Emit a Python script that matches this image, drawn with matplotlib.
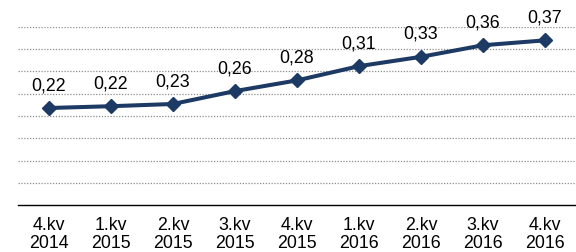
import matplotlib
matplotlib.use("Agg")
import matplotlib.pyplot as plt

categories = ["4.kv\n2014", "1.kv\n2015", "2.kv\n2015", "3.kv\n2015", "4.kv\n2015",
              "1.kv\n2016", "2.kv\n2016", "3.kv\n2016", "4.kv\n2016"]
values = [0.218, 0.222, 0.227, 0.256, 0.280, 0.312, 0.333, 0.359, 0.370]
labels = ["0,22", "0,22", "0,23", "0,26", "0,28", "0,31", "0,33", "0,36", "0,37"]

plt.rcParams['font.family'] = ['Liberation Sans', 'DejaVu Sans']

fig = plt.figure(figsize=(5.76, 2.52), dpi=100)
ax = fig.add_axes([18/576, 47/252, 1 - 18/576, 178/252])

x = list(range(len(values)))
color = "#1D3A64"
ax.plot(x, values, color=color, lw=2.9, marker="D", markersize=7,
        markerfacecolor=color, markeredgecolor=color, clip_on=False, zorder=3)

for xi, v, lab in zip(x, values, labels):
    ax.annotate(lab, (xi, v), xytext=(0, 10), textcoords="offset points",
                ha="center", va="bottom", fontsize=12.8, color="#000000",
                annotation_clip=False)

ax.set_xlim(-0.5, len(values) - 0.5)
ax.set_ylim(0, 0.40)
ax.set_yticks([0.05 * i for i in range(1, 9)])
ax.yaxis.grid(True, linestyle=(0, (1, 1.3)), color="#8C8C8C", lw=0.9)
ax.set_axisbelow(True)
ax.tick_params(axis="y", left=False, labelleft=False)
ax.set_xticks(x)
ax.set_xticklabels(categories, fontsize=12.8, linespacing=1.05)
ax.tick_params(axis="x", length=0, pad=9)
for s in ["top", "right", "left"]:
    ax.spines[s].set_visible(False)
ax.spines["bottom"].set_color("#000000")
ax.spines["bottom"].set_linewidth(1.0)

fig.savefig("out.png", dpi=100)
